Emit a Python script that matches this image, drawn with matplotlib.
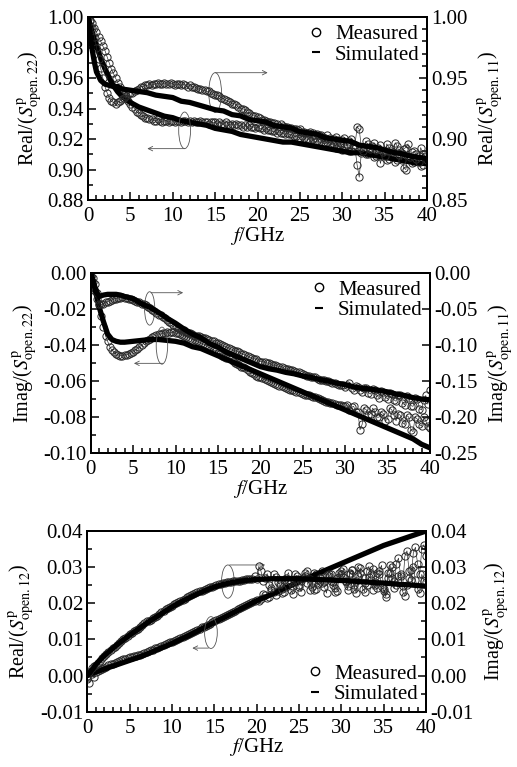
import numpy as np
import matplotlib
matplotlib.use("Agg")
import matplotlib.pyplot as plt
from matplotlib.patches import Ellipse
from matplotlib.lines import Line2D
from matplotlib.ticker import MultipleLocator, FuncFormatter

plt.rcParams['font.family'] = ['Liberation Serif', 'DejaVu Serif']
plt.rcParams['mathtext.fontset'] = 'stix'
plt.rcParams['axes.unicode_minus'] = False

# ---------------- data ----------------
f_meas = np.arange(0, 40.001, 0.25)          # measured sweep, 0.25 GHz step
f_sim = [0, 0.25, 0.5, 0.75, 1, 1.5, 2, 2.5, 3, 3.5, 4] + list(range(5, 41))

# Panel 1: Real(S11) (right axis) and Real(S22) (left axis)
re11_meas = [1.000, 0.997, 0.991, 0.984, 0.975, 0.966, 0.958, 0.950, 0.943, 0.938, 0.934, 0.931, 0.930, 0.929, 0.930, 0.931, 0.933, 0.934, 0.935, 0.937,
             0.938, 0.938, 0.939, 0.940, 0.941, 0.943, 0.943, 0.944, 0.944, 0.945, 0.944, 0.945, 0.945, 0.946, 0.945, 0.945, 0.946, 0.945, 0.945, 0.946,
             0.945, 0.944, 0.945, 0.945, 0.944, 0.945, 0.944, 0.943, 0.944, 0.943, 0.943, 0.942, 0.941, 0.941, 0.940, 0.940, 0.939, 0.939, 0.938, 0.937,
             0.936, 0.936, 0.935, 0.934, 0.933, 0.932, 0.931, 0.930, 0.929, 0.929, 0.928, 0.926, 0.925, 0.925, 0.924, 0.922, 0.921, 0.920, 0.919, 0.919,
             0.918, 0.917, 0.916, 0.916, 0.915, 0.914, 0.914, 0.913, 0.913, 0.912, 0.911, 0.912, 0.911, 0.910, 0.910, 0.909, 0.909, 0.908, 0.908, 0.907,
             0.908, 0.906, 0.906, 0.905, 0.905, 0.906, 0.905, 0.903, 0.904, 0.903, 0.903, 0.902, 0.901, 0.903, 0.901, 0.899, 0.900, 0.902, 0.899, 0.897,
             0.899, 0.901, 0.896, 0.898, 0.900, 0.894, 0.895, 0.910, 0.908, 0.893, 0.890, 0.898, 0.896, 0.892, 0.894, 0.897, 0.891, 0.893, 0.895, 0.889,
             0.886, 0.896, 0.893, 0.890, 0.889, 0.897, 0.894, 0.887, 0.883, 0.892, 0.893, 0.896, 0.885, 0.889, 0.890, 0.884, 0.881, 0.893, 0.888, 0.886,
             0.883]
re11_sim = [1.000, 0.985, 0.973, 0.963, 0.955, 0.948, 0.945, 0.944, 0.943, 0.943,
            0.941, 0.940, 0.939, 0.938, 0.936, 0.935, 0.934, 0.931, 0.930, 0.928,
            0.926, 0.924, 0.923, 0.920, 0.919, 0.916, 0.915, 0.914, 0.911, 0.910,
            0.909, 0.906, 0.905, 0.904, 0.901, 0.900, 0.899, 0.898, 0.895, 0.894,
            0.893, 0.891, 0.889, 0.888, 0.886, 0.885, 0.884]
re22_meas = [1.000, 0.998, 0.996, 0.993, 0.990, 0.987, 0.984, 0.981, 0.978, 0.974, 0.970, 0.966, 0.963, 0.960, 0.957, 0.954, 0.952, 0.949, 0.947, 0.945,
             0.943, 0.941, 0.940, 0.938, 0.937, 0.936, 0.935, 0.934, 0.934, 0.933, 0.933, 0.932, 0.932, 0.933, 0.932, 0.931, 0.932, 0.932, 0.931, 0.932,
             0.932, 0.931, 0.932, 0.932, 0.931, 0.932, 0.932, 0.931, 0.932, 0.931, 0.932, 0.931, 0.931, 0.932, 0.931, 0.931, 0.931, 0.930, 0.931, 0.931,
             0.931, 0.930, 0.931, 0.930, 0.930, 0.931, 0.930, 0.929, 0.930, 0.929, 0.930, 0.929, 0.929, 0.928, 0.929, 0.928, 0.929, 0.928, 0.928, 0.927,
             0.928, 0.927, 0.927, 0.926, 0.927, 0.926, 0.926, 0.925, 0.925, 0.924, 0.925, 0.924, 0.924, 0.923, 0.924, 0.923, 0.923, 0.922, 0.922, 0.921,
             0.921, 0.922, 0.921, 0.920, 0.920, 0.919, 0.920, 0.918, 0.919, 0.918, 0.918, 0.917, 0.917, 0.918, 0.916, 0.915, 0.916, 0.914, 0.915, 0.916,
             0.913, 0.915, 0.916, 0.912, 0.912, 0.914, 0.914, 0.903, 0.895, 0.911, 0.913, 0.910, 0.910, 0.914, 0.913, 0.908, 0.909, 0.912, 0.904, 0.910,
             0.912, 0.906, 0.907, 0.911, 0.910, 0.905, 0.906, 0.913, 0.911, 0.901, 0.900, 0.909, 0.908, 0.904, 0.905, 0.910, 0.909, 0.902, 0.903, 0.908,
             0.907]
re22_sim = [1.000, 0.995, 0.990, 0.985, 0.981, 0.973, 0.966, 0.960, 0.955, 0.951,
            0.948, 0.944, 0.941, 0.939, 0.937, 0.935, 0.934, 0.932, 0.931, 0.930,
            0.929, 0.927, 0.926, 0.925, 0.923, 0.922, 0.921, 0.920, 0.919, 0.918,
            0.918, 0.917, 0.916, 0.915, 0.914, 0.913, 0.912, 0.911, 0.911, 0.910,
            0.909, 0.908, 0.907, 0.906, 0.905, 0.904, 0.904]

# Panel 2: Imag(S11) (right axis) and Imag(S22) (left axis)
im11_meas = [-0.005, -0.013, -0.025, -0.036, -0.043, -0.044, -0.043, -0.041, -0.040, -0.039, -0.038, -0.036, -0.036, -0.035, -0.035, -0.034, -0.035, -0.035, -0.036, -0.037,
             -0.038, -0.039, -0.040, -0.041, -0.043, -0.044, -0.045, -0.047, -0.049, -0.051, -0.053, -0.056, -0.058, -0.059, -0.061, -0.063, -0.065, -0.068, -0.070, -0.072,
             -0.074, -0.076, -0.078, -0.079, -0.080, -0.082, -0.083, -0.084, -0.085, -0.087, -0.088, -0.088, -0.089, -0.090, -0.090, -0.092, -0.093, -0.094, -0.095, -0.097,
             -0.098, -0.099, -0.100, -0.102, -0.103, -0.104, -0.105, -0.107, -0.108, -0.109, -0.110, -0.112, -0.113, -0.114, -0.115, -0.117, -0.118, -0.119, -0.120, -0.122,
             -0.123, -0.123, -0.124, -0.125, -0.125, -0.127, -0.128, -0.128, -0.129, -0.130, -0.130, -0.132, -0.133, -0.134, -0.135, -0.135, -0.136, -0.137, -0.138, -0.139,
             -0.140, -0.142, -0.143, -0.143, -0.144, -0.145, -0.145, -0.147, -0.148, -0.148, -0.149, -0.150, -0.150, -0.152, -0.153, -0.153, -0.154, -0.155, -0.155, -0.156,
             -0.158, -0.155, -0.153, -0.160, -0.163, -0.157, -0.158, -0.162, -0.165, -0.159, -0.160, -0.166, -0.168, -0.161, -0.163, -0.170, -0.173, -0.164, -0.165, -0.172,
             -0.175, -0.166, -0.168, -0.176, -0.178, -0.169, -0.170, -0.180, -0.183, -0.171, -0.173, -0.184, -0.185, -0.174, -0.175, -0.188, -0.190, -0.176, -0.170, -0.182,
             -0.163]
im11_sim = [0.000, -0.010, -0.020, -0.028, -0.033, -0.031, -0.030, -0.030, -0.030, -0.031,
            -0.033, -0.036, -0.043, -0.048, -0.055, -0.063, -0.070, -0.078, -0.085, -0.090,
            -0.098, -0.103, -0.110, -0.115, -0.120, -0.125, -0.130, -0.133, -0.135, -0.138,
            -0.140, -0.143, -0.145, -0.148, -0.150, -0.153, -0.155, -0.158, -0.160, -0.161,
            -0.163, -0.165, -0.168, -0.170, -0.173, -0.175, -0.176]
im22_meas = [-0.002, -0.003, -0.006, -0.011, -0.018, -0.024, -0.030, -0.035, -0.038, -0.041, -0.043, -0.044, -0.045, -0.0455, -0.046, -0.046, -0.0455, -0.0455, -0.045, -0.0445,
             -0.044, -0.043, -0.042, -0.041, -0.040, -0.039, -0.038, -0.037, -0.0365, -0.0355, -0.035, -0.0345, -0.034, -0.034, -0.0335, -0.0335, -0.033, -0.0335, -0.033, -0.033,
             -0.0335, -0.0335, -0.034, -0.0345, -0.035, -0.0355, -0.036, -0.0365, -0.037, -0.0375, -0.038, -0.0385, -0.039, -0.0395, -0.040, -0.041, -0.0415, -0.042, -0.043, -0.0435,
             -0.0445, -0.045, -0.046, -0.0465, -0.047, -0.0475, -0.048, -0.049, -0.050, -0.0505, -0.051, -0.052, -0.0525, -0.053, -0.054, -0.055, -0.0555, -0.056, -0.057, -0.0575,
             -0.058, -0.0585, -0.059, -0.0595, -0.060, -0.0605, -0.061, -0.0615, -0.062, -0.0625, -0.063, -0.0635, -0.064, -0.0645, -0.065, -0.065, -0.0655, -0.066, -0.066, -0.0665,
             -0.067, -0.0675, -0.068, -0.068, -0.0685, -0.069, -0.069, -0.0695, -0.070, -0.0705, -0.071, -0.0715, -0.0715, -0.072, -0.072, -0.0725, -0.073, -0.0735, -0.0735, -0.074,
             -0.074, -0.0735, -0.076, -0.0745, -0.074, -0.077, -0.077, -0.087, -0.084, -0.075, -0.076, -0.079, -0.078, -0.075, -0.077, -0.080, -0.080, -0.077, -0.078, -0.082,
             -0.081, -0.075, -0.076, -0.079, -0.082, -0.078, -0.079, -0.083, -0.084, -0.079, -0.080, -0.087, -0.088, -0.080, -0.081, -0.084, -0.085, -0.080, -0.082, -0.085,
             -0.086]
im22_sim = [-0.001, -0.004, -0.009, -0.014, -0.019, -0.027, -0.034, -0.037, -0.038, -0.0385,
            -0.0385, -0.038, -0.0375, -0.037, -0.037, -0.0375, -0.038, -0.039, -0.041, -0.042,
            -0.044, -0.046, -0.048, -0.050, -0.052, -0.054, -0.056, -0.058, -0.060, -0.062,
            -0.064, -0.066, -0.068, -0.070, -0.072, -0.074, -0.076, -0.078, -0.080, -0.082,
            -0.084, -0.086, -0.088, -0.090, -0.092, -0.095, -0.097]

# Panel 3: Real(S12) (left axis) and Imag(S12) (right axis)
re12_meas = [-0.001, -0.002, 0.0005, -0.0005, 0.001, 0.0012, 0.0015, 0.0018, 0.002, 0.0025, 0.0028, 0.0031, 0.0033, 0.0036, 0.0038, 0.0041, 0.0043, 0.0046, 0.0047, 0.0049,
             0.005, 0.0051, 0.0053, 0.0054, 0.0056, 0.0058, 0.006, 0.0063, 0.0065, 0.0067, 0.007, 0.0072, 0.0075, 0.0077, 0.008, 0.0083, 0.0085, 0.0087, 0.009, 0.0092,
             0.0094, 0.0095, 0.0098, 0.0101, 0.0103, 0.0107, 0.011, 0.0112, 0.0115, 0.0117, 0.012, 0.0123, 0.0126, 0.013, 0.0133, 0.0135, 0.0138, 0.0141, 0.0144, 0.0147,
             0.015, 0.0154, 0.0157, 0.0159, 0.0162, 0.0165, 0.0168, 0.0171, 0.0174, 0.0177, 0.018, 0.0183, 0.0186, 0.0189, 0.0192, 0.0195, 0.0198, 0.0201, 0.0203, 0.0206,
             0.0208, 0.0205, 0.0212, 0.0226, 0.0222, 0.0214, 0.0218, 0.0238, 0.0232, 0.0224, 0.0235, 0.0248, 0.0228, 0.0232, 0.0245, 0.0256, 0.0238, 0.0226, 0.026, 0.0268,
             0.0245, 0.0232, 0.027, 0.0276, 0.0255, 0.0238, 0.0245, 0.0285, 0.028, 0.0252, 0.0262, 0.0288, 0.0245, 0.0228, 0.0275, 0.0282, 0.0258, 0.0232, 0.0235, 0.0272,
             0.028, 0.0295, 0.0262, 0.0238, 0.0285, 0.0292, 0.025, 0.0228, 0.0275, 0.0298, 0.024, 0.0232, 0.029, 0.0302, 0.0265, 0.0238, 0.025, 0.0285, 0.028, 0.0245,
             0.0235, 0.0225, 0.0285, 0.0305, 0.027, 0.0242, 0.031, 0.0325, 0.0275, 0.0248, 0.033, 0.0345, 0.029, 0.0265, 0.034, 0.0355, 0.031, 0.028, 0.035, 0.0362,
             0.033]
re12_sim = [0.000, 0.0003, 0.0006, 0.0008, 0.001, 0.0014, 0.0018, 0.0022, 0.0026, 0.003,
            0.0034, 0.0042, 0.005, 0.0059, 0.0069, 0.0079, 0.0089, 0.010, 0.0111, 0.0123,
            0.0135, 0.0147, 0.0159, 0.0171, 0.0183, 0.0195, 0.0207, 0.0217, 0.0227, 0.0238,
            0.0249, 0.026, 0.027, 0.028, 0.029, 0.030, 0.031, 0.032, 0.033, 0.034,
            0.035, 0.036, 0.0368, 0.0376, 0.0384, 0.0392, 0.040]
im12_meas = [0.000, 0.001, 0.002, 0.0026, 0.003, 0.0036, 0.004, 0.0048, 0.0055, 0.006, 0.0065, 0.007, 0.0075, 0.008, 0.0085, 0.009, 0.0095, 0.010, 0.0105, 0.011,
             0.0115, 0.0118, 0.0122, 0.0126, 0.013, 0.0135, 0.014, 0.0145, 0.015, 0.0152, 0.0155, 0.016, 0.0163, 0.0166, 0.017, 0.0175, 0.018, 0.0183, 0.0187, 0.019,
             0.0193, 0.0197, 0.020, 0.0204, 0.0207, 0.021, 0.0213, 0.0217, 0.022, 0.0222, 0.0225, 0.0228, 0.023, 0.0233, 0.0235, 0.0238, 0.024, 0.0242, 0.0244, 0.0246,
             0.0248, 0.025, 0.0252, 0.0254, 0.0255, 0.0257, 0.0258, 0.0259, 0.026, 0.0261, 0.0262, 0.0263, 0.0263, 0.0264, 0.0265, 0.0266, 0.0266, 0.0267, 0.0267, 0.0275,
             0.0268, 0.0302, 0.029, 0.0262, 0.027, 0.0282, 0.025, 0.0242, 0.028, 0.0272, 0.026, 0.0252, 0.024, 0.0265, 0.027, 0.0285, 0.026, 0.0248, 0.028, 0.0275,
             0.025, 0.0262, 0.027, 0.0285, 0.029, 0.0268, 0.026, 0.0238, 0.024, 0.0265, 0.027, 0.0255, 0.026, 0.0278, 0.028, 0.0262, 0.025, 0.0242, 0.027, 0.0283,
             0.029, 0.0272, 0.026, 0.0248, 0.028, 0.0292, 0.024, 0.0262, 0.030, 0.0285, 0.027, 0.0255, 0.025, 0.0272, 0.028, 0.0295, 0.026, 0.0242, 0.029, 0.0305,
             0.024, 0.0218, 0.027, 0.0285, 0.030, 0.0262, 0.025, 0.0275, 0.028, 0.0232, 0.022, 0.025, 0.027, 0.0292, 0.030, 0.0265, 0.024, 0.0228, 0.028, 0.0262,
             0.026]
im12_sim = [0.000, 0.0008, 0.0015, 0.0022, 0.003, 0.0043, 0.0055, 0.0065, 0.0075, 0.0085,
            0.0094, 0.0112, 0.0128, 0.0145, 0.016, 0.0175, 0.019, 0.0203, 0.0215, 0.0226,
            0.0236, 0.0245, 0.0252, 0.0257, 0.0261, 0.0264, 0.0266, 0.0267, 0.0268, 0.0268,
            0.0268, 0.0268, 0.0267, 0.0266, 0.0265, 0.0264, 0.0263, 0.0262, 0.026, 0.0259,
            0.0257, 0.0256, 0.0254, 0.0252, 0.0251, 0.0249, 0.0247]

# ---------------- styling ----------------
FS = 15
meas_kw = dict(ls='-', lw=0.45, color='#222222', marker='o', ms=5.2, mfc='none',
               mec='#2a2a2a', mew=0.7, zorder=2)
sim_kw = dict(ls='-', lw=3.8, color='k', zorder=3, solid_capstyle='round')
ANN = '#555555'

fig = plt.figure(figsize=(5.17, 7.67), dpi=100)
fmt = FuncFormatter(lambda v, p: '%.2f' % (0.0 if abs(v) < 1e-9 else v))


def style(ax, axr, ylim_l, ylim_r, maj_l, min_l, maj_r, min_r, ylab_l, ylab_r):
    ax.set_xlim(0, 40)
    ax.set_ylim(*ylim_l)
    axr.set_ylim(*ylim_r)
    ax.xaxis.set_major_locator(MultipleLocator(5))
    ax.xaxis.set_minor_locator(MultipleLocator(1))
    ax.yaxis.set_major_locator(MultipleLocator(maj_l))
    ax.yaxis.set_minor_locator(MultipleLocator(min_l))
    axr.yaxis.set_major_locator(MultipleLocator(maj_r))
    if min_r:
        axr.yaxis.set_minor_locator(MultipleLocator(min_r))
    ax.yaxis.set_major_formatter(fmt)
    axr.yaxis.set_major_formatter(fmt)
    ax.tick_params(which='both', direction='in', top=False, right=False, width=1.1,
                   labelsize=FS, pad=3)
    ax.tick_params(axis='x', which='both', pad=5)
    ax.tick_params(which='major', length=6)
    ax.tick_params(which='minor', length=3.5)
    axr.tick_params(which='both', direction='in', left=False, right=True, width=1.1,
                    labelsize=FS, pad=3)
    axr.tick_params(which='major', length=6)
    axr.tick_params(which='minor', length=3.5)
    for a in (ax, axr):
        for s in a.spines.values():
            s.set_linewidth(1.4)
    ax.set_xlabel('$f$/GHz', fontsize=FS, labelpad=-1)
    ax.set_ylabel(ylab_l, fontsize=14.5, labelpad=2)
    axr.set_ylabel(ylab_r, fontsize=14.5, labelpad=6)


def legend(ax, loc):
    h = [Line2D([], [], ls='none', marker='o', ms=6, mfc='none', mec='k', mew=1.0),
         Line2D([], [], ls='none', marker='_', ms=6, color='k', mew=1.5)]
    ax.legend(h, ['Measured', 'Simulated'], loc=loc, frameon=False, fontsize=FS,
              handlelength=0.8, handletextpad=0.5, labelspacing=0.05, borderaxespad=0.15,
              borderpad=0.2)


def marker_arrow(ax, x0, x1, y):
    ax.annotate('', xy=(x1, y), xytext=(x0, y),
                arrowprops=dict(arrowstyle='->', color=ANN, lw=0.6,
                                shrinkA=0, shrinkB=0, mutation_scale=8), zorder=5)


def ring(ax, xy, w, h):
    ax.add_patch(Ellipse(xy, w, h, fill=False, ec=ANN, lw=0.6, zorder=5))


# ---- Panel 1 ----
ax1 = fig.add_axes([0.1702, 0.7392, 0.6558, 0.2386])
ax1r = ax1.twinx()
ax1r.plot(f_meas, re11_meas, **meas_kw)
ax1.plot(f_meas, re22_meas, **meas_kw)
ax1r.plot(f_sim, re11_sim, **sim_kw)
ax1.plot(f_sim, re22_sim, **sim_kw)
style(ax1, ax1r, (0.88, 1.00), (0.85, 1.00), 0.02, 0.01, 0.05, 0.01,
      r'Real/($S^{\rm p}_{\rm open.22}$)', r'Real/($S^{\rm p}_{\rm open.11}$)')
ring(ax1, (15.0, 0.9505), 1.5, 0.026)
marker_arrow(ax1, 15.0, 21.2, 0.9635)
ring(ax1, (11.4, 0.9257), 1.4, 0.024)
marker_arrow(ax1, 11.4, 7.0, 0.9137)
legend(ax1r, 'upper right')

# ---- Panel 2 ----
ax2 = fig.add_axes([0.1754, 0.4090, 0.6563, 0.2355])
ax2r = ax2.twinx()
ax2r.plot(f_meas, im11_meas, **meas_kw)
ax2.plot(f_meas, im22_meas, **meas_kw)
ax2r.plot(f_sim, im11_sim, **sim_kw)
ax2.plot(f_sim, im22_sim, **sim_kw)
style(ax2, ax2r, (-0.10, 0.00), (-0.25, 0.00), 0.02, 0.01, 0.05, None,
      r'Imag/($S^{\rm p}_{\rm open.22}$)', r'Imag/($S^{\rm p}_{\rm open.11}$)')
ring(ax2, (6.95, -0.0198), 1.2, 0.0185)
marker_arrow(ax2, 7.1, 10.9, -0.0111)
ring(ax2, (8.4, -0.0404), 1.35, 0.0205)
marker_arrow(ax2, 8.5, 5.1, -0.0502)
legend(ax2r, 'upper right')

# ---- Panel 3 ----
ax3 = fig.add_axes([0.1689, 0.0721, 0.6551, 0.2356])
ax3r = ax3.twinx()
ax3.plot(f_meas, re12_meas, **meas_kw)
ax3r.plot(f_meas, im12_meas, **meas_kw)
ax3.plot(f_sim, re12_sim, **sim_kw)
ax3r.plot(f_sim, im12_sim, **sim_kw)
style(ax3, ax3r, (-0.01, 0.04), (-0.01, 0.04), 0.01, 0.005, 0.01, 0.005,
      r'Real/($S^{\rm p}_{\rm open.12}$)', r'Imag/($S^{\rm p}_{\rm open.12}$)')
ring(ax3, (16.6, 0.026), 1.5, 0.0092)
marker_arrow(ax3, 16.8, 21.0, 0.0306)
ring(ax3, (14.6, 0.0119), 1.5, 0.0088)
marker_arrow(ax3, 14.3, 12.4, 0.0076)
legend(ax3r, 'lower right')

fig.savefig('out.png', dpi=100)
